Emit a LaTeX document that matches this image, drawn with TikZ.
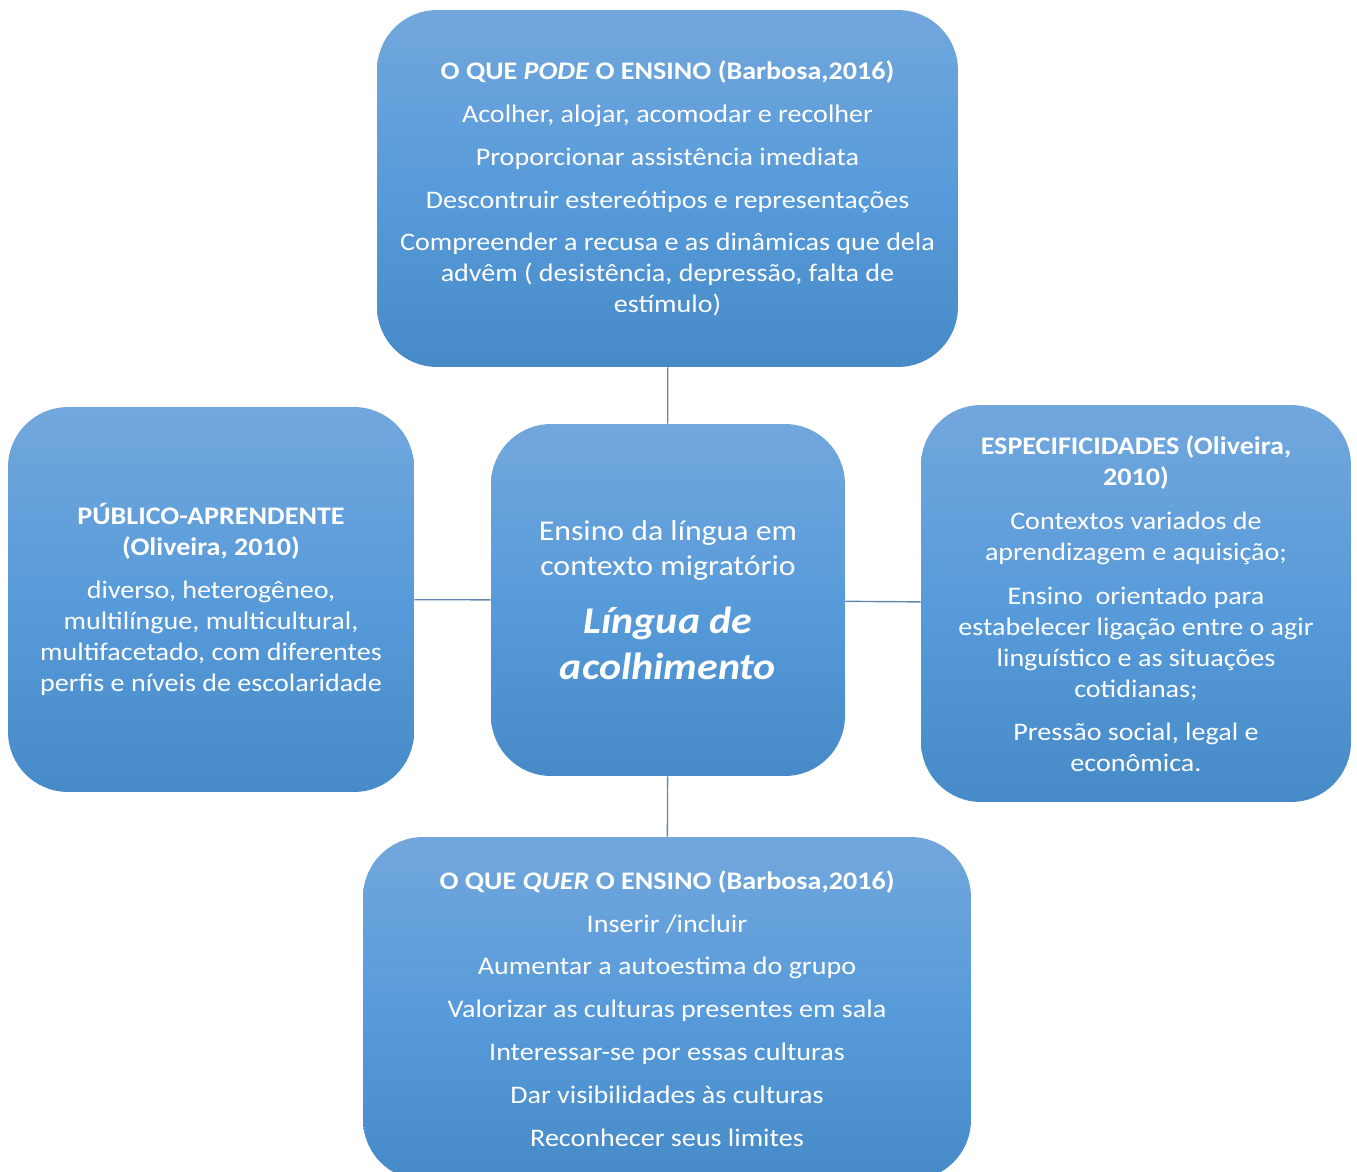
\documentclass[tikz,border=0pt]{standalone}
\usepackage{fontspec}
\setmainfont{Carlito}[FakeStretch=1.11]
\usetikzlibrary{positioning}
\definecolor{boxtop}{RGB}{114,167,220}
\definecolor{boxmid}{RGB}{88,155,218}
\definecolor{boxbot}{RGB}{70,138,200}
\definecolor{linkgray}{RGB}{100,135,175}

\begin{document}
\begin{tikzpicture}[x=0.02cm,y=-0.02cm,
    main node/.style={rounded corners=1.2cm,top color=boxtop,bottom color=boxbot,middle color=boxmid,
                      text=white,align=center,inner sep=0pt,font=\fontsize{14.4}{17.6}\selectfont},
    link/.style={draw=linkgray,line width=0.8pt}]

        \useasboundingbox (0,0) rectangle (1357,1171);
        \begin{scope}
        \clip (0,0) rectangle (1357,1171);

        \node[main node, minimum width=11.62cm, minimum height=7.14cm] (pode) at (667.5,188.5)
            {\textbf{O QUE \textit{PODE} O ENSINO (Barbosa,2016)}\\[6.8pt]
             Acolher, alojar, acomodar e recolher\\[6.8pt]
             Proporcionar assistência imediata\\[6.8pt]
             Descontruir estereótipos e representações\\[6.8pt]
             Compreender a recusa e as dinâmicas que dela\\
             advêm ( desistência, depressão, falta de\\
             estímulo)};

        \node[main node, minimum width=7.08cm, minimum height=7.04cm,
              font=\fontsize{16.3}{20.4}\selectfont] (centro) at (668,600)
            {Ensino da língua em\\
             contexto migratório\\[12.5pt]
             {\fontsize{21.5}{26}\selectfont\bfseries\itshape Língua de}\\[5.7pt]
             {\fontsize{21.5}{26}\selectfont\bfseries\itshape acolhimento}};

        \node[main node, minimum width=8.12cm, minimum height=7.7cm] (publico) at (211,599.5)
            {\textbf{PÚBLICO-APRENDENTE}\\
             \textbf{(Oliveira, 2010)}\\[6.8pt]
             diverso, heterogêneo,\\
             multilíngue, multicultural,\\
             multifacetado, com diferentes\\
             perfis e níveis de escolaridade};

        \node[main node, minimum width=8.6cm, minimum height=7.94cm] (especif) at (1136,603.5)
            {\textbf{ESPECIFICIDADES (Oliveira,}\\
             \textbf{2010)}\\[7.5pt]
             Contextos variados de\\
             aprendizagem e aquisição;\\[7.5pt]
             Ensino\ \ orientado para\\
             estabelecer ligação entre o agir\\
             linguístico e as situações\\
             cotidianas;\\[6.8pt]
             Pressão social, legal e\\
             econômica.};

        \node[main node, minimum width=12.16cm, minimum height=6.86cm] (quer) at (667,1008.5)
            {\textbf{O QUE \textit{QUER} O ENSINO (Barbosa,2016)}\\[6.8pt]
             Inserir /incluir\\[6.8pt]
             Aumentar a autoestima do grupo\\[6.8pt]
             Valorizar as culturas presentes em sala\\[6.8pt]
             Interessar-se por essas culturas\\[6.8pt]
             Dar visibilidades às culturas\\[6.8pt]
             Reconhecer seus limites};

        \path[link]
            (pode) edge (centro)
            (centro) edge (quer)
            (publico) edge (centro)
            (centro) edge (especif);
        \end{scope}
\end{tikzpicture}
\end{document}
